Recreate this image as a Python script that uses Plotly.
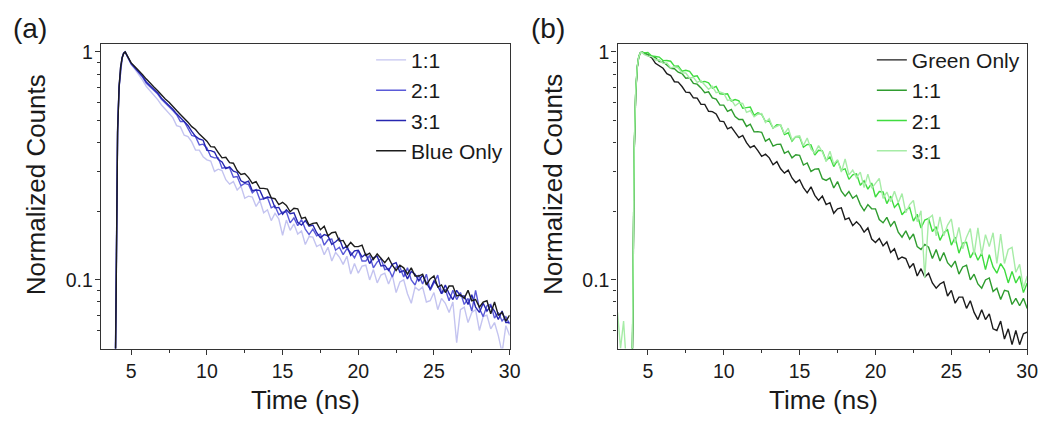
import plotly.graph_objects as go

# ---------------- data ----------------
TIME_NS = [3.0, 3.2, 3.4, 3.6, 3.8, 3.9, 4.0, 4.1, 4.2, 4.3, 4.4, 4.5, 4.6, 4.75,
           5.0, 5.25, 5.5, 5.75, 6.0, 6.25, 6.5, 6.75, 7.0, 7.25, 7.5, 7.75,
           8.0, 8.25, 8.5, 8.75, 9.0, 9.25, 9.5, 9.75, 10.0, 10.25, 10.5, 10.75,
           11.0, 11.25, 11.5, 11.75, 12.0, 12.25, 12.5, 12.75, 13.0, 13.25, 13.5, 13.75,
           14.0, 14.25, 14.5, 14.75, 15.0, 15.25, 15.5, 15.75, 16.0, 16.25, 16.5, 16.75,
           17.0, 17.25, 17.5, 17.75, 18.0, 18.25, 18.5, 18.75, 19.0, 19.25, 19.5, 19.75,
           20.0, 20.25, 20.5, 20.75, 21.0, 21.25, 21.5, 21.75, 22.0, 22.25, 22.5, 22.75,
           23.0, 23.25, 23.5, 23.75, 24.0, 24.25, 24.5, 24.75, 25.0, 25.25, 25.5, 25.75,
           26.0, 26.25, 26.5, 26.75, 27.0, 27.25, 27.5, 27.75, 28.0, 28.25, 28.5, 28.75,
           29.0, 29.25, 29.5, 29.75, 30.0]

# panel (a): blue emitter blends
A_1_1 = [0.01, 0.01, 0.01, 0.01, 0.011, 0.019, 0.085, 0.45, 0.70, 0.85, 0.94, 0.99, 1.0, 0.95,
         0.88, 0.838, 0.797, 0.752,
         0.705, 0.676, 0.647, 0.618,
         0.585, 0.562, 0.54, 0.515,
         0.475, 0.469, 0.431, 0.425,
         0.403, 0.371, 0.371, 0.347,
         0.336, 0.332, 0.299, 0.306,
         0.302, 0.275, 0.263, 0.27,
         0.248, 0.258, 0.228, 0.233,
         0.231, 0.21, 0.223, 0.197,
         0.203, 0.182, 0.196, 0.185,
         0.157, 0.183, 0.165, 0.176,
         0.159, 0.164, 0.143, 0.155,
         0.154, 0.14, 0.143, 0.129,
         0.139, 0.121, 0.132, 0.126,
         0.117, 0.127, 0.106, 0.118,
         0.107, 0.115, 0.116, 0.10,
         0.111, 0.097, 0.105, 0.107,
         0.096, 0.105, 0.088, 0.098,
         0.10, 0.087, 0.079, 0.093,
         0.09, 0.093, 0.08, 0.081,
         0.088, 0.074, 0.083, 0.079,
         0.072, 0.08, 0.053, 0.074,
         0.076, 0.065, 0.072, 0.074,
         0.06, 0.069, 0.07, 0.061,
         0.065, 0.057, 0.048, 0.063,
         0.057]
A_2_1 = [0.01, 0.01, 0.01, 0.01, 0.012, 0.02, 0.085, 0.45, 0.70, 0.85, 0.94, 0.985, 1.0, 0.955,
         0.885, 0.848, 0.812, 0.775,
         0.728, 0.703, 0.678, 0.653,
         0.62, 0.598, 0.576, 0.553,
         0.53, 0.495, 0.495, 0.461,
         0.43, 0.425, 0.391, 0.394,
         0.379, 0.348, 0.343, 0.343,
         0.309, 0.311, 0.31, 0.282,
         0.284, 0.259, 0.265, 0.262,
         0.241, 0.249, 0.225, 0.227,
         0.23, 0.207, 0.211, 0.193,
         0.198, 0.199, 0.178, 0.187,
         0.173, 0.184, 0.167, 0.158,
         0.167, 0.156, 0.159, 0.142,
         0.15, 0.151, 0.135, 0.139,
         0.129, 0.137, 0.132, 0.125,
         0.135, 0.121, 0.121, 0.128,
         0.113, 0.12, 0.124, 0.111,
         0.112, 0.103, 0.114, 0.114,
         0.103, 0.113, 0.10, 0.095,
         0.105, 0.096, 0.106, 0.09,
         0.097, 0.105, 0.087, 0.091,
         0.081, 0.09, 0.082, 0.088,
         0.078, 0.083, 0.073, 0.09,
         0.075, 0.069, 0.077, 0.078,
         0.068, 0.072, 0.066, 0.069,
         0.064]
A_3_1 = [0.01, 0.01, 0.01, 0.01, 0.011, 0.02, 0.09, 0.46, 0.71, 0.86, 0.945, 0.99, 1.0, 0.955,
         0.89, 0.853, 0.818, 0.782,
         0.738, 0.712, 0.686, 0.66,
         0.627, 0.605, 0.583, 0.56,
         0.535, 0.515, 0.495, 0.476,
         0.448, 0.426, 0.415, 0.41,
         0.37, 0.369, 0.364, 0.337,
         0.329, 0.308, 0.313, 0.30,
         0.296, 0.272, 0.267, 0.271,
         0.246, 0.248, 0.247, 0.227,
         0.231, 0.229, 0.207, 0.208,
         0.194, 0.203, 0.195, 0.197,
         0.179, 0.174, 0.182, 0.172,
         0.174, 0.161, 0.153, 0.158,
         0.156, 0.143, 0.147, 0.152,
         0.137, 0.141, 0.128, 0.134,
         0.135, 0.126, 0.13, 0.118,
         0.125, 0.127, 0.115, 0.116,
         0.11, 0.117, 0.119, 0.108,
         0.11, 0.101, 0.109, 0.106,
         0.099, 0.105, 0.097, 0.091,
         0.099, 0.094, 0.087, 0.095,
         0.087, 0.082, 0.09, 0.085,
         0.085, 0.078, 0.086, 0.076,
         0.072, 0.079, 0.073, 0.077,
         0.073, 0.067, 0.073, 0.065,
         0.065]
A_BLUE_ONLY = [0.01, 0.01, 0.01, 0.01, 0.011, 0.018, 0.08, 0.44, 0.70, 0.855, 0.94, 0.985, 1.0, 0.96,
               0.895, 0.86, 0.83, 0.795,
               0.76, 0.728, 0.702, 0.676,
               0.645, 0.622, 0.602, 0.574,
               0.553, 0.532, 0.514, 0.492,
               0.47, 0.457, 0.436, 0.42,
               0.406, 0.384, 0.383, 0.362,
               0.343, 0.345, 0.327, 0.325,
               0.302, 0.29, 0.293, 0.281,
               0.265, 0.27, 0.252, 0.252,
               0.25, 0.229, 0.227, 0.214,
               0.219, 0.212, 0.199, 0.206,
               0.205, 0.186, 0.188, 0.174,
               0.177, 0.178, 0.166, 0.172,
               0.156, 0.161, 0.162, 0.148,
               0.149, 0.139, 0.146, 0.14,
               0.14, 0.142, 0.128, 0.131,
               0.123, 0.13, 0.124, 0.119,
               0.125, 0.116, 0.11, 0.116,
               0.113, 0.106, 0.113, 0.104,
               0.104, 0.106, 0.095, 0.101,
               0.104, 0.093, 0.095, 0.088,
               0.094, 0.094, 0.085, 0.086,
               0.083, 0.09, 0.081, 0.082,
               0.076, 0.08, 0.081, 0.071,
               0.08, 0.07, 0.072, 0.066,
               0.07]

# panel (b): green emitter blends
B_GREEN_ONLY = [0.01, 0.01, 0.01, 0.01, 0.011, 0.016, 0.06, 0.36, 0.66, 0.85, 0.95, 0.99, 1.0, 0.985,
                0.965, 0.944, 0.891, 0.87,
                0.848, 0.802, 0.788, 0.74,
                0.737, 0.705, 0.666, 0.664,
                0.629, 0.627, 0.589, 0.589,
                0.549, 0.547, 0.534, 0.497,
                0.495, 0.46, 0.468, 0.444,
                0.421, 0.43, 0.40, 0.38,
                0.388, 0.369, 0.348, 0.356,
                0.343, 0.32, 0.33, 0.307,
                0.294, 0.303, 0.28, 0.267,
                0.275, 0.254, 0.241, 0.256,
                0.235, 0.223, 0.233, 0.214,
                0.218, 0.196, 0.205, 0.207,
                0.184, 0.187, 0.173, 0.18,
                0.173, 0.162, 0.169, 0.151,
                0.146, 0.152, 0.141, 0.147,
                0.132, 0.137, 0.123, 0.126,
                0.124, 0.113, 0.118, 0.104,
                0.112, 0.103, 0.107, 0.097,
                0.092, 0.096, 0.098, 0.085,
                0.09, 0.079, 0.084, 0.084,
                0.075, 0.081, 0.072, 0.067,
                0.074, 0.067, 0.071, 0.061,
                0.06, 0.066, 0.055, 0.061,
                0.052, 0.06, 0.052, 0.058,
                0.059]
B_1_1 = [0.01, 0.01, 0.01, 0.01, 0.011, 0.017, 0.065, 0.37, 0.67, 0.86, 0.95, 0.99, 1.0, 0.99,
         0.975, 0.955, 0.944, 0.906,
         0.904, 0.876, 0.848, 0.844,
         0.815, 0.803, 0.767, 0.77,
         0.728, 0.722, 0.695, 0.662,
         0.668, 0.629, 0.621, 0.584,
         0.584, 0.549, 0.559, 0.521,
         0.505, 0.505, 0.471, 0.482,
         0.446, 0.447, 0.444, 0.406,
         0.416, 0.386, 0.393, 0.394,
         0.359, 0.367, 0.343, 0.354,
         0.352, 0.319, 0.326, 0.299,
         0.306, 0.307, 0.278, 0.273,
         0.28, 0.253, 0.27, 0.245,
         0.233, 0.244, 0.228, 0.235,
         0.214, 0.201, 0.214, 0.205,
         0.205, 0.184, 0.178, 0.188,
         0.172, 0.181, 0.162, 0.154,
         0.164, 0.151, 0.159, 0.14,
         0.136, 0.143, 0.139, 0.124,
         0.136, 0.121, 0.132, 0.119,
         0.114, 0.121, 0.106, 0.114,
         0.116, 0.10, 0.106, 0.096,
         0.092, 0.10, 0.102, 0.089,
         0.092, 0.082, 0.09, 0.089,
         0.078, 0.083, 0.077, 0.083,
         0.075]
B_2_1 = [0.01, 0.01, 0.01, 0.01, 0.012, 0.017, 0.065, 0.37, 0.67, 0.86, 0.955, 0.99, 1.0, 0.99,
         0.995, 0.96, 0.955, 0.949,
         0.916, 0.917, 0.91, 0.866,
         0.867, 0.823, 0.831, 0.821,
         0.78, 0.785, 0.738, 0.742,
         0.732, 0.694, 0.706, 0.655,
         0.652, 0.655, 0.609, 0.618,
         0.61, 0.566, 0.57, 0.573,
         0.527, 0.541, 0.532, 0.495,
         0.498, 0.463, 0.479, 0.477,
         0.434, 0.442, 0.406, 0.425,
         0.423, 0.382, 0.393, 0.391,
         0.353, 0.37, 0.368, 0.334,
         0.346, 0.314, 0.334, 0.303,
         0.307, 0.276, 0.289, 0.292,
         0.26, 0.272, 0.25, 0.266,
         0.231, 0.244, 0.243, 0.216,
         0.233, 0.208, 0.217, 0.193,
         0.202, 0.208, 0.181, 0.194,
         0.169, 0.183, 0.186, 0.163,
         0.171, 0.149, 0.161, 0.166,
         0.142, 0.154, 0.131, 0.145,
         0.146, 0.125, 0.134, 0.122,
         0.131, 0.111, 0.129, 0.114,
         0.107, 0.118, 0.111, 0.097,
         0.109, 0.097, 0.104, 0.088,
         0.097]
B_3_1 = [0.072, 0.05, 0.066, 0.044, 0.03, 0.02, 0.07, 0.38, 0.68, 0.86, 0.95, 0.99, 1.0, 0.975,
         0.96, 0.954, 0.921, 0.924,
         0.891, 0.894, 0.851, 0.861,
         0.852, 0.81, 0.808, 0.767,
         0.774, 0.735, 0.748, 0.716,
         0.686, 0.706, 0.663, 0.668,
         0.659, 0.613, 0.618, 0.58,
         0.597, 0.595, 0.543, 0.552,
         0.519, 0.533, 0.537, 0.49,
         0.509, 0.464, 0.473, 0.48,
         0.438, 0.463, 0.411, 0.426,
         0.429, 0.388, 0.419, 0.375,
         0.36, 0.388, 0.364, 0.331,
         0.367, 0.322, 0.337, 0.297,
         0.339, 0.289, 0.303, 0.281,
         0.297, 0.254, 0.291, 0.253,
         0.265, 0.279, 0.228, 0.243,
         0.22, 0.245, 0.218, 0.239,
         0.197, 0.214, 0.223, 0.18,
         0.201, 0.102, 0.186, 0.192,
         0.156, 0.189, 0.156, 0.174,
         0.185, 0.145, 0.17, 0.137,
         0.154, 0.168, 0.129, 0.169,
         0.129, 0.158, 0.14, 0.161,
         0.118, 0.159, 0.118, 0.136,
         0.139, 0.108, 0.117, 0.092,
         0.104]

PANEL_A = [("1:1", A_1_1, "#c4c4f0"), ("2:1", A_2_1, "#5a5ad8"),
           ("3:1", A_3_1, "#2626b0"), ("Blue Only", A_BLUE_ONLY, "#1c1c1c")]
PANEL_B = [("Green Only", B_GREEN_ONLY, "#1c1c1c"), ("1:1", B_1_1, "#2f9c2f"),
           ("2:1", B_2_1, "#3fdc3f"), ("3:1", B_3_1, "#a6eca6")]

for _name, _vals, _c in PANEL_A + PANEL_B:
    if len(_vals) != len(TIME_NS):
        raise ValueError(f"{_name}: {len(_vals)} values vs {len(TIME_NS)} times")

X_TICKS = [5, 10, 15, 20, 25, 30]
X_MINOR = [7.5, 12.5, 17.5, 22.5, 27.5]
Y_TICKS = [0.1, 1]
Y_TICKTEXT = ["0.1", "1"]
Y_MINOR = [0.06, 0.07, 0.08, 0.09, 0.2, 0.3, 0.4, 0.5, 0.6, 0.7, 0.8, 0.9]

# ---------------- figure ----------------
W, H = 1059, 421
FONT = "Liberation Sans, Arial, sans-serif"
AX = "#333333"


def fx(p):
    return p / W


def fy(p):
    return 1 - p / H


fig = go.Figure()
for name, vals, col in PANEL_A:
    fig.add_trace(go.Scatter(x=TIME_NS, y=vals, mode="lines", name=name,
                             line=dict(color=col, width=1.4),
                             xaxis="x", yaxis="y", legend="legend"))
for name, vals, col in PANEL_B:
    fig.add_trace(go.Scatter(x=TIME_NS, y=vals, mode="lines", name=name,
                             line=dict(color=col, width=1.4),
                             xaxis="x2", yaxis="y2", legend="legend2"))

xcommon = dict(range=[3, 30], tickmode="array", tickvals=X_TICKS,
               ticks="outside", ticklen=5, tickwidth=1.3, tickcolor=AX,
               minor=dict(tickmode="array", tickvals=X_MINOR, ticks="outside",
                          ticklen=3, tickwidth=1.2, tickcolor=AX),
               showline=True, mirror=True, linecolor=AX, linewidth=1.4,
               showgrid=False, zeroline=False,
               tickfont=dict(family=FONT, size=19.5, color="#1a1a1a"))
ycommon = dict(type="log", range=[-1.301, 0.036], tickmode="array",
               tickvals=Y_TICKS, ticktext=Y_TICKTEXT,
               ticks="outside", ticklen=5, tickwidth=1.3, tickcolor=AX,
               minor=dict(tickmode="array", tickvals=Y_MINOR, ticks="outside",
                          ticklen=3, tickwidth=1.2, tickcolor=AX),
               showline=True, mirror=True, linecolor=AX, linewidth=1.4,
               showgrid=False, zeroline=False, ticklabelstandoff=-2,
               tickfont=dict(family=FONT, size=19.5, color="#1a1a1a"))

LEG_FONT = dict(family=FONT, size=21, color="#1a1a1a")
fig.update_layout(
    width=W, height=H, margin=dict(l=0, r=0, t=0, b=0),
    paper_bgcolor="white", plot_bgcolor="white",
    font=dict(family=FONT, color="#1a1a1a"),
    xaxis=dict(domain=[fx(102), fx(515)], anchor="y", **xcommon),
    yaxis=dict(domain=[fy(348), fy(41)], anchor="x", **ycommon),
    xaxis2=dict(domain=[fx(624), fx(1038)], anchor="y2", **xcommon),
    yaxis2=dict(domain=[fy(348), fy(41)], anchor="x2", **ycommon),
    legend=dict(x=fx(375), y=fy(37), xanchor="left", yanchor="top", font=LEG_FONT,
                bgcolor="rgba(0,0,0,0)", borderwidth=0, tracegroupgap=0),
    legend2=dict(x=fx(881), y=fy(37), xanchor="left", yanchor="top", font=LEG_FONT,
                 bgcolor="rgba(0,0,0,0)", borderwidth=0, tracegroupgap=0),
)

annots = [
    dict(text="(a)", x=fx(30), y=fy(26), font=dict(size=28)),
    dict(text="(b)", x=fx(554), y=fy(26), font=dict(size=28)),
    dict(text="Normalized Counts", x=fx(36), y=fy(183), textangle=-90, font=dict(size=26)),
    dict(text="Normalized Counts", x=fx(558), y=fy(183), textangle=-90, font=dict(size=26)),
    dict(text="Time (ns)", x=fx(309), y=fy(400), font=dict(size=26)),
    dict(text="Time (ns)", x=fx(832), y=fy(400), font=dict(size=26)),
]
for a in annots:
    a["font"].update(family=FONT, color="#1a1a1a")
    fig.add_annotation(xref="paper", yref="paper", xanchor="center", yanchor="middle",
                       showarrow=False, **a)

fig.write_html("out.html", config={"displayModeBar": False},
               post_script="document.body.style.margin='0';")
